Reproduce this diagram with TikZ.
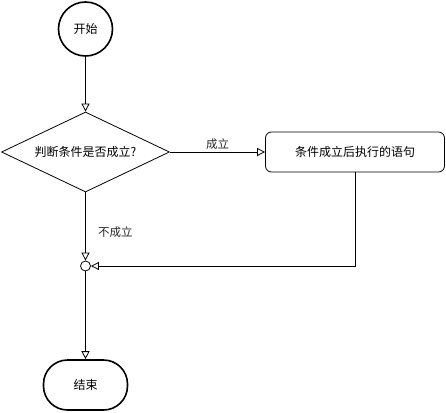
\documentclass[tikz,border=0pt]{standalone}
\usepackage{fontspec}
\setmainfont{Noto Sans CJK SC}
\usetikzlibrary{shapes.geometric,arrows.meta}
\tikzset{
  arr/.style={draw, line width=0.8pt, -{Triangle[open, length=8pt, width=8pt, line width=0.8pt]}},
  lbl/.style={font=\fontsize{11.5pt}{13pt}\selectfont, text=black!85},
}
\begin{document}
\begin{tikzpicture}[x=1pt,y=-1pt, font=\fontsize{12pt}{14pt}\selectfont]
\useasboundingbox (0,0) rectangle (446,412);
\node[circle, draw, line width=1.6pt, minimum size=54pt, inner sep=0] (start) at (85.5,29) {开始};
\node[diamond, draw, line width=0.8pt, minimum width=168pt, minimum height=80pt, inner sep=0, aspect=2.1] (dec) at (85.5,152) {判断条件是否成立?};
\node[draw, line width=0.8pt, rounded corners=6pt, minimum width=179pt, minimum height=40pt, inner sep=0] (act) at (355,152) {条件成立后执行的语句};
\node[circle, draw, line width=0.8pt, minimum size=10pt, inner sep=0] (join) at (85.5,266) {};
\node[draw, line width=1.6pt, rounded corners=24pt, minimum width=84pt, minimum height=50pt, inner sep=0] (end) at (85.5,385) {结束};
\draw[arr] (start) -- (dec);
\draw[arr] (dec) -- node[lbl, above, inner sep=2pt]{成立} (act);
\draw[arr] (act.south) |- (join.east);
\draw[arr] (dec) -- node[lbl, pos=0.58, anchor=west, xshift=9pt]{不成立} (join);
\draw[arr] (join) -- (end);
\end{tikzpicture}
\end{document}
